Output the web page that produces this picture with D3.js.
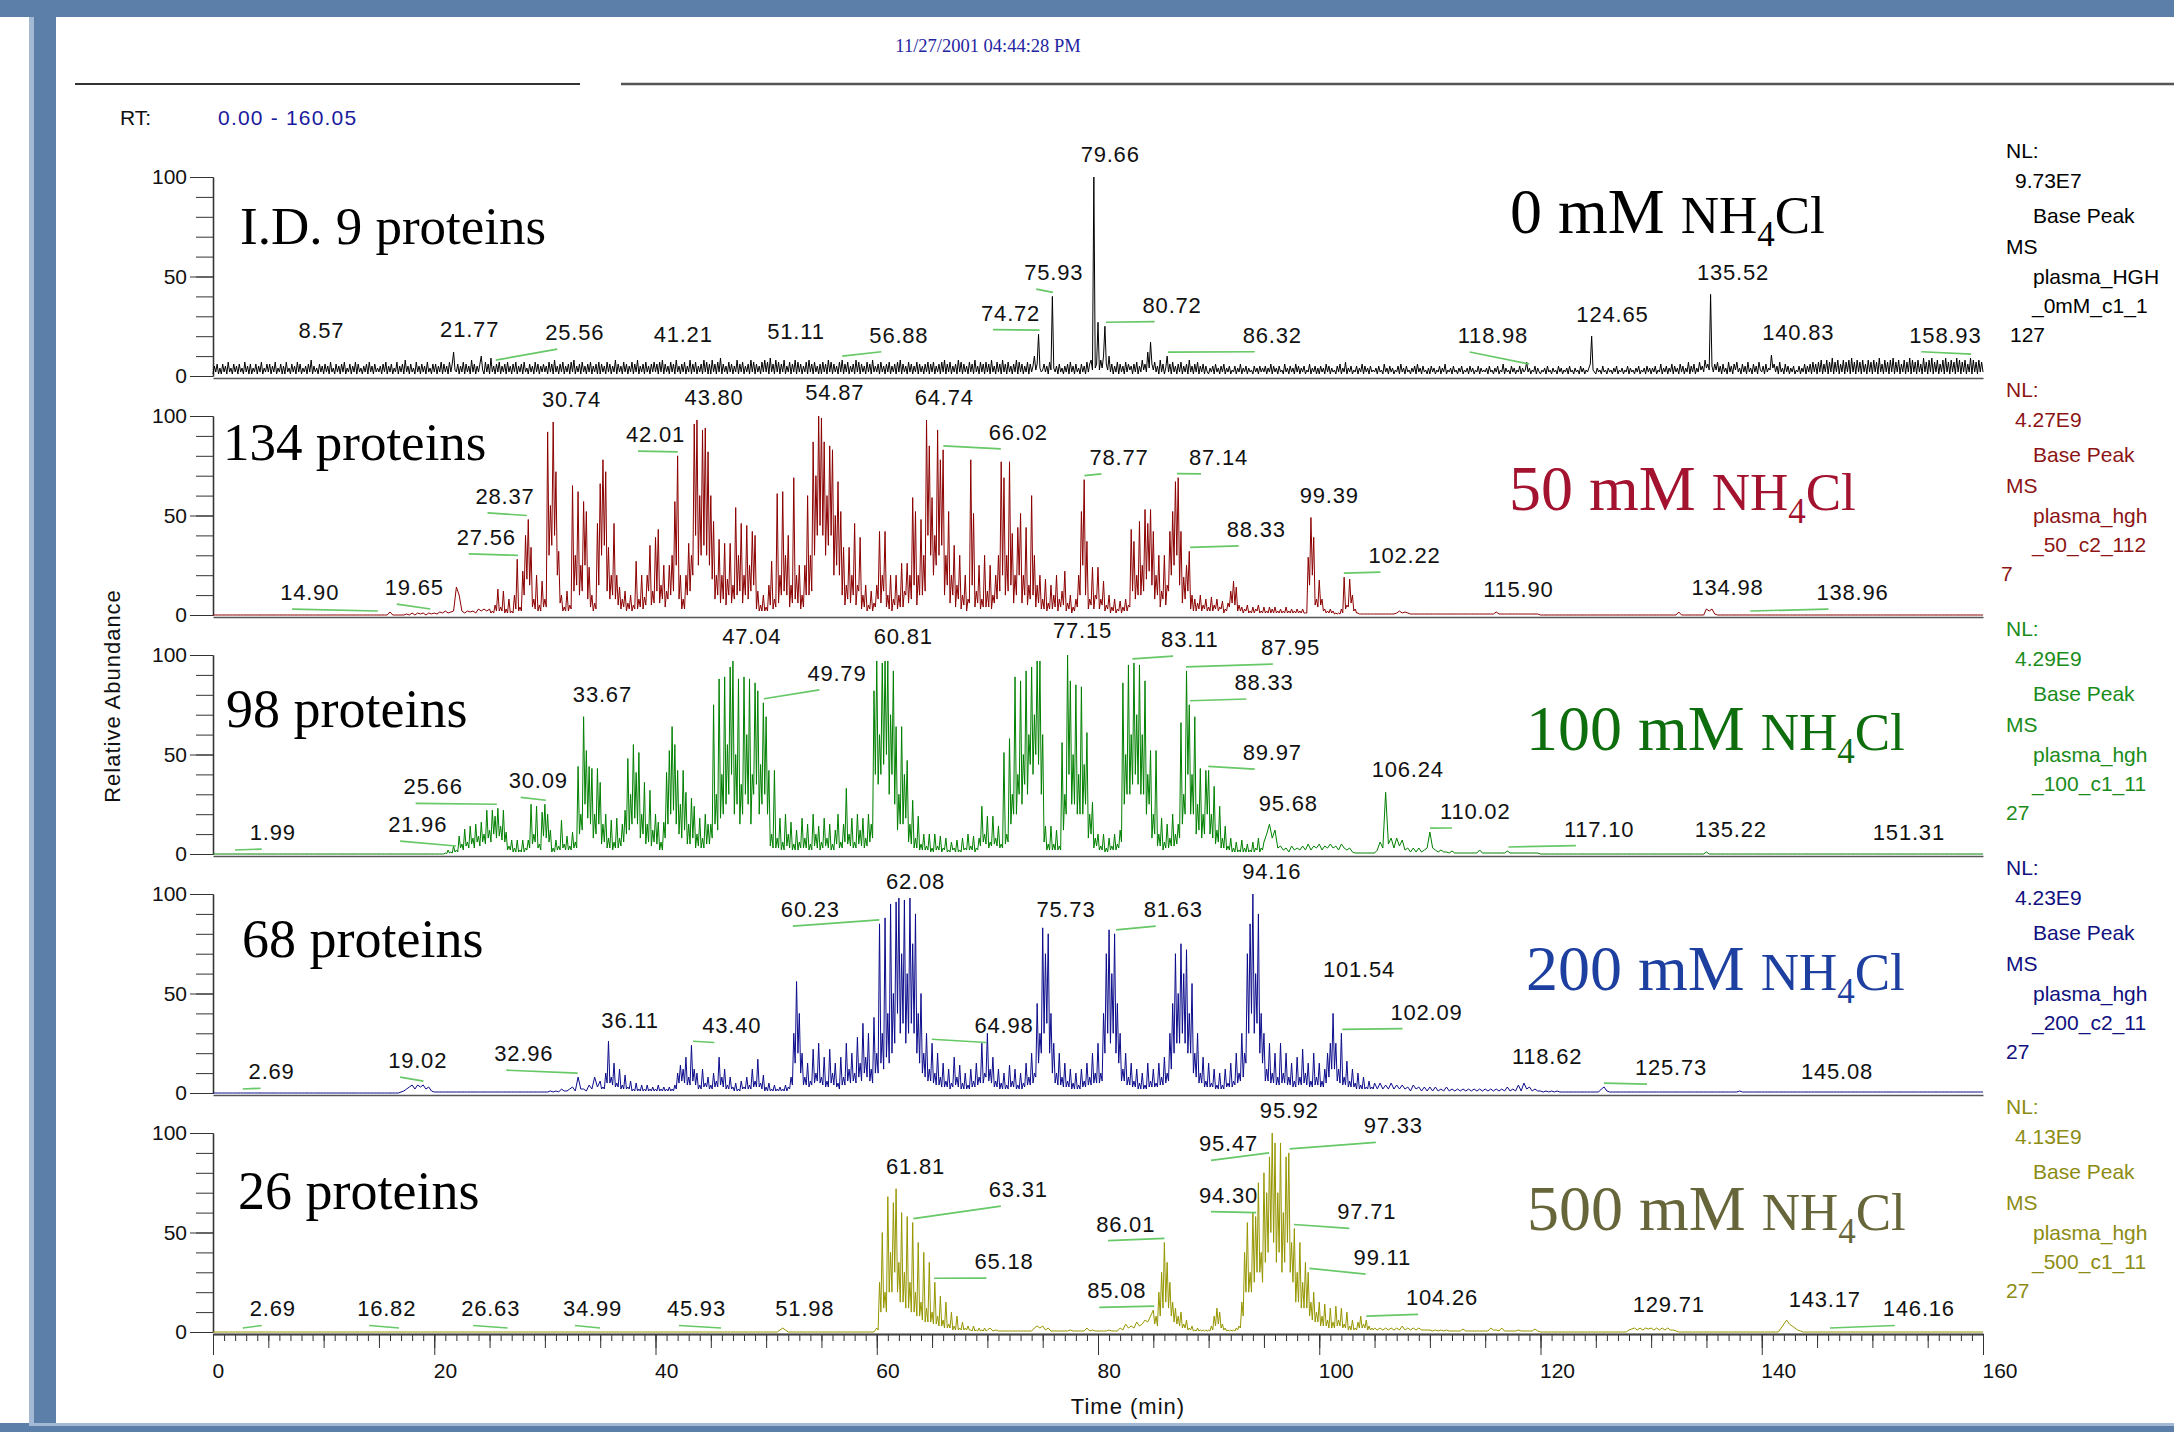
<!DOCTYPE html>
<html><head><meta charset="utf-8">
<script src="https://cdn.jsdelivr.net/npm/d3@7"></script>
<style>
html,body{margin:0;padding:0;background:#fff;}
svg{display:block;}
text{font-family:"Liberation Sans",Arial,sans-serif;}
</style></head><body>
<svg id="c" width="2174" height="1432"></svg>
<script>
// ---------------- DATA ----------------
const CHUNK_MIN = 5;     // each string below covers 5 minutes (20 values = 0.25 min steps, 40 values = 0.125 min steps)
const xMajorTicks = [0,20,40,60,80,100,120,140,160];
const yLabelTicks = [0,50,100];
const concLabels = ["0","50","100","200","500"];
const proteinLabels = ["I.D. 9 proteins","134 proteins","98 proteins","68 proteins","26 proteins"];
const nlValues = ["9.73E7","4.27E9","4.29E9","4.23E9","4.13E9"];
const fileLines = [["plasma_HGH","_0mM_c1_1","127"],["plasma_hgh","_50_c2_112","7"],["plasma_hgh","_100_c1_11","27"],["plasma_hgh","_200_c2_11","27"],["plasma_hgh","_500_c1_11","27"]];

// Relative abundance (%) — one string per 5 min
const abund0 = [
"1 5 2 6 1 4 1 6 2 5 1 7 2 4 1 6 2 5 1 6 2 4 1 7 2 5 1 6 1 4 2 6 1 5 2 7 1 4 2 6",
"2 6 1 5 2 7 1 4 2 6 1 5 1 7 2 4 1 6 2 5 1 7 2 6 1 4 2 5 1 6 2 8 1 5 2 4 1 6 2 5",
"1 6 2 5 1 7 2 4 1 6 2 5 1 6 2 7 1 4 2 6 1 5 2 7 1 6 2 4 1 5 2 6 1 7 2 5 1 6 2 4",
"2 5 1 6 2 7 1 5 2 6 1 4 2 7 1 5 2 6 1 8 2 5 1 6 2 4 1 7 2 5 1 6 2 5 1 7 2 4 1 6",
"2 6 1 5 2 7 1 6 2 5 1 7 2 6 12 3 2 6 1 5 2 7 1 6 2 5 1 8 2 6 1 5 2 6 10 3 1 7 2 6",
"1 9 2 5 1 6 2 7 1 5 2 6 1 7 2 5 1 6 2 7 1 5 2 6 1 7 2 4 1 6 2 5 1 7 2 6 1 5 2 6",
"2 5 1 7 2 6 1 8 2 5 1 6 2 7 1 5 2 6 1 7 2 8 1 5 2 6 1 7 2 5 1 6 2 7 1 5 2 6 1 7",
"1 6 2 5 1 7 2 6 1 5 2 8 1 6 2 5 1 7 2 6 1 5 2 7 1 6 2 8 1 5 2 6 1 7 2 5 1 6 2 7",
"2 6 1 7 2 8 1 6 2 5 1 7 2 6 1 8 2 5 1 6 2 7 1 5 2 8 1 6 2 7 1 5 2 6 1 8 2 7 1 6",
"1 8 2 6 1 7 2 9 1 6 2 5 1 7 2 6 1 5 2 8 1 6 2 7 1 5 2 6 1 8 2 7 1 6 2 5 1 7 2 8",
"2 7 1 9 2 6 1 8 2 7 1 6 2 8 1 5 2 7 1 6 2 8 1 7 2 6 1 5 2 7 1 8 2 6 1 7 2 5 1 6",
"1 7 2 6 1 8 2 7 1 6 2 5 1 7 2 8 1 6 2 7 1 5 2 6 1 8 2 7 1 6 2 5 1 7 2 6 1 8 2 5",
"2 6 1 7 2 5 1 6 2 7 1 5 2 6 1 7 2 8 1 6 2 5 1 7 2 6 1 5 2 7 1 6 2 5 1 6 2 7 1 6",
"2 7 1 5 2 6 1 7 2 8 1 6 2 7 1 5 2 6 1 8 2 7 1 6 2 5 1 7 2 6 1 8 2 5 1 7 2 6 1 7",
"2 6 1 8 2 5 1 7 2 6 1 8 2 6 1 7 2 5 1 6 2 8 1 7 2 6 1 5 2 7 1 6 2 5 10 3 6 21 4 2",
"3 6 2 5 1 7 3 40 4 2 5 1 6 2 4 1 5 2 6 1 7 2 5 1 6 2 4 1 6 2 5 1 7 2 6 8 3 100 4 6",
"27 3 8 4 10 25 6 3 10 2 6 1 5 2 7 1 6 2 5 1 7 2 6 3 5 1 6 2 7 1 5 2 8 3 6 2 12 4 17 6",
"3 7 2 5 1 8 2 6 1 4 10 2 6 1 7 2 5 1 6 2 7 1 5 2 6 1 8 2 5 1 6 2 7 1 5 2 6 1 5 2",
"1 4 2 5 1 6 2 4 1 5 2 6 1 4 2 5 1 3 2 5 1 4 2 6 1 4 2 5 1 4 2 3 1 5 2 4 1 5 2 4",
"2 5 1 4 2 6 1 5 2 4 1 5 2 3 1 6 2 4 1 5 2 4 1 6 2 5 1 4 2 5 1 3 2 6 1 4 2 5 1 4",
"1 5 2 4 1 6 2 5 1 4 2 3 1 5 2 6 1 4 2 7 1 4 2 5 1 3 2 5 1 4 2 6 1 5 2 4 1 5 2 3",
"2 4 1 5 2 3 1 6 2 4 1 5 2 4 1 3 2 5 1 6 2 4 1 5 2 3 1 4 2 5 1 6 2 4 1 5 2 3 1 4",
"1 5 2 4 1 3 2 5 1 4 2 6 1 3 2 4 1 5 2 3 1 4 2 5 1 3 2 4 1 5 2 4 1 3 2 5 1 4 2 3",
"2 4 1 5 2 3 1 4 2 5 1 3 2 6 1 4 2 3 1 5 2 4 1 3 2 5 1 4 2 3 7 2 4 1 3 2 5 1 4 2",
"1 3 2 4 1 5 2 3 1 4 2 3 1 5 2 4 1 3 2 4 1 5 2 3 1 4 2 3 1 5 2 4 1 3 2 4 6 20 3 2",
"1 4 2 3 1 5 2 3 1 4 2 3 1 4 2 5 1 3 2 4 1 3 2 5 1 4 2 3 1 4 2 5 1 3 2 4 1 5 2 4",
"1 4 2 5 1 3 2 6 1 4 2 5 1 4 2 6 1 5 2 4 1 6 2 5 1 4 2 7 1 5 2 6 1 4 2 7 3 5 2 8",
"4 6 3 41 5 2 6 3 7 2 5 1 6 2 4 1 7 2 5 1 6 3 7 2 4 1 6 2 5 1 7 2 4 1 6 2 5 1 7 3",
"2 5 1 6 2 4 3 10.5 4 6 2 5 1 7 2 4 1 6 2 5 1 4 2 5 1 3 2 5 1 4 2 6 1 5 2 6 1 7 2 6",
"1 7 2 8 1 6 2 8 1 7 2 9 1 7 2 8 1 6 2 8 1 7 2 8 1 9 2 7 1 8 2 7 1 8 2 6 1 8 2 7",
"1 8 2 7 1 9 2 6 1 8 2 7 1 8 2 9 1 7 2 8 1 6 2 8 1 7 2 9 1 8 2 7 1 8 2 6 1 9 2 7",
"1 8 2 9 1 7 2 8 1 6 2 8 1 9 2 7 1 8 2 7 1 9 2 8 1 7 2 8 1 6 2 9 1 8 2 7 1 8 2 7",
"2"];
const abund50 = [
"0*20","0*20","0*20","0 0 0 0 1.5 0 0 0 0 0 0.5 0 1 0 1 0.5 1 0 1 0.5",
"1 0.5 1.5 1 2 1 1.5 2 14 10 2 1 2 1.5 2 1 3 2 3 2",
"3 1 2 1 5 2 13 2 4 2 12 1 3 1 8 1 2 1 10 3 28 2 4 2 22 10 40 18 48 15 34 4 8 3 20 2 5 2 17 4",
"8 4 92 30 55 35 97 40 72 20 32 6 10 2 4 2 12 2 5 3 65 12 30 15 62 10 25 12 57 25 52 8 24 4 10 2 6 3 46 15",
"66 30 78 35 72 12 34 8 20 10 46 8 20 5 14 3 8 4 12 2 6 3 10 2 5 3 27 3 8 4 20 3 9 5 20 12 35 5 12 6",
"39 12 43 6 15 8 25 4 12 8 25 10 30 12 57 25 80 8 20 3 8 3 20 10 36 12 30 20 96 40 98 25 60 30 93 35 94 30 82 25",
"60 18 47 8 20 10 38 6 20 8 36 5 18 10 36 6 15 8 54 10 30 12 46 6 20 10 45 8 25 12 42 15 40 3 12 2 5 2 10 2",
"4 2 15 5 27 3 8 4 61 6 20 10 62 12 30 10 40 4 15 6 69 8 20 6 25 3 10 4 25 10 60 10 30 12 87 30 70 40 100 45",
"99 40 87 30 60 35 85 40 83 20 50 25 67 20 52 10 34 5 15 8 34 6 20 10 46 5 15 12 39 3 10 4 15 2 5 3 12 2 6 4",
"15 8 42 6 20 12 42 4 10 3 20 2 8 5 20 3 10 4 26 4 12 10 26 6 20 8 59 15 52 5 20 10 48 10 30 12 98 40 85 30",
"59 20 40 25 93 30 78 35 83 10 30 15 52 6 20 10 35 4 15 8 30 3 10 5 20 2 8 6 78 15 51 4 12 6 25 3 8 4 30 4",
"12 4 25 3 10 6 20 8 30 12 77 20 69 10 30 12 77 15 41 6 20 10 44 20 51 6 20 10 44 5 15 8 60 10 30 4 15 6 20 3",
"8 3 18 2 6 3 15 3 10 4 20 2 8 4 12 5 22 2 6 3 10 1 4 2 8 4 20 10 52 25 68 10 37 3 8 5 24 3 10 8",
"24 3 8 5 17 2 5 3 10 1 4 2 8 1 3 2 7 1 4 2 8 2 5 4 43 12 37 8 20 10 47 10 25 12 53 18 46 22 53 15",
"42 8 20 10 30 4 12 8 30 5 15 12 42 20 52 25 67 30 69 15 42 6 19 8 25 12 32 3 10 2 8 2 6 3 10 2 5 3 8 2",
"4 2 9 2 5 3 8 2 4 3 7 1 3 2 6 4 12 6 17 5 14 2 5 2 4 1 3 2 5 1 2 1 4 1 3 2 5 1 2 1",
"4 1 2 1 4 1 3 1 4 1 2 1 3 1 2 1 4 1 2 1 3 1 2 1 3 1 2 1 3 1 1 1 29 15 49 20 39 5 8 4",
"17.5 5 8 2 3 1 2 1 3 1 2 0.5 1 0.5 1 0.5 3 1 19 3 5 4 18 6 10 2 3 1 1 0.5 0.5 0.5 0.5 0.5 0.5 0.5 0.5 0.5 0.5 0.5",
"0.5 0.5 0.5 0.5 0.5 0.5 0.5 0.5 1 2 1 1.5 1 0.5 0.5 0.5 0.5 0.5 0.5 0.5",
"0.5*20","0.5 0.5 0.5 0.5 1.5 0.5*15","0*20","0*20",
"0 0 0 0 0 0 0 0 0 0 1.5 0*9","3 2 3 0.5 0*16","0*20","0*20","0*20","0*20","0"];
const abund100 = [
"0*20","0*20","0*20","0*20",
"0 0 0 0 0 0 0 0 0.5 0.2 2 0.5 1 0.5 4 1 2 1 9 3 5 2 12.5 4 6 3 14 5 8 3 15 6 9 4 16 6 10 5 22 8",
"12 6 22 10 19 8 23 9 14 7 22 6 11 2 4 2 7 1 3 1 7 1 2 1 7 1 3 2 7 3 25 5 10 6 24 3 5 2 21 9",
"25 8 20 6 12 1 3 1 7 2 4 2 17 3 5 2 9 2 4 2 11 3 6 3 44 10 20 12 69 25 52 18 44 15 43 8 20 10 43 15",
"36 5 15 6 20 3 8 3 17 2 6 3 18 3 8 4 15 6 22 10 48 12 30 15 55 18 41 15 51 8 20 10 36 5 15 6 32 4 12 6",
"20 5 16 2 6 2 16 8 41 15 52 20 64 22 55 15 42 10 25 8 42 12 31 5 15 5 28 8 24 3 10 4 18 3 8 3 20 5 15 5",
"15 8 75 15 30 12 88 18 40 20 89 25 55 30 94 40 97 20 50 25 88 15 35 20 89 30 60 25 88 15 40 30 86 35 82 20 45 25 76 30",
"69 20 42 4 10 3 42 3 8 3 18 2 6 2 20 4 10 3 16 2 5 2 12 2 6 3 18 3 8 3 15 2 5 2 20 4 10 3 14 2",
"6 3 18 4 8 3 15 2 5 2 12 5 20 3 6 3 15 6 33 5 10 4 18 3 6 3 20 5 12 4 18 3 8 4 20 6 15 8 82 40",
"97 35 60 40 96 45 97 50 97 30 70 40 92 25 64 12 30 15 64 15 40 18 47 6 15 5 27 3 8 3 19 2 5 2 10 2 4 2 10 1",
"3 1 10 2 4 2 9 1 3 2 8 1 2 1 6 2 3 1 7 1 2 1 8 2 3 2 10 2 4 2 9 1 3 2 8 4 24 6 10 5",
"19 3 6 4 19 5 8 4 14 3 5 3 51 5 10 6 58 15 30 20 89 20 40 30 87 25 50 35 92 30 60 45 94 40 70 50 97 45 97 30",
"60 6 14 2 5 2 14 2 5 2 12 2 4 2 56 12 30 20 100 40 87 25 50 25 85 20 40 20 84 20 45 25 61 8 20 10 26 3 8 4",
"10 2 4 2 10 1 3 1 8 2 4 2 10 2 5 3 12 6 86 25 50 30 95 30 60 35 96 40 70 35 95 30 60 30 87 20 40 25 52 8",
"20 10 52 4 10 4 18 2 6 3 15 3 8 4 20 4 10 5 15 8 66 15 30 20 92 40 75 20 40 20 69 10 25 12 43 8 20 10 42 20",
"42 10 20 8 34 5 12 6 24 3 8 3 14 2 4 2 8 1 3 1 6 1 2 1 7 1 3 1 5 1 2 1 6 1 3 2 8 1 3 2",
"6 10 15 8 12 3 4 2 3 1 4 2 3 2 4 2 5 2 4 3",
"5 2 4 3 5 3 4 2 5 3 2 3 1 0.5 0.5 0.5 0.5 0.5 0.5 0.5","0.5 2 6 3 31 5 8 3 8 4 7 2 3 1 3 1 3 1 2 3",
"11 3 2 1 2 1 1 0.5 1.5 0.5 0.5 0.5 0.5 0.5 0.5 0.5 0.5 0.5 2 0.5","0.5 0.5 0.5 0.5 0.5 0.5 0.5 0.5 1.5 0.5*11",
"0*20","0*20","0*20","1 0*19","0*20","0*20","0*20","0*20","0"];
const abund200 = [
"0*20","0*20","0*20","0 0 0 0 0 0 0 0 0.5 1 2 3 4 2 4 3 4 2 3 1",
"0.5*20","0.5*20","0.5 0.5 1 0.5 1 0.5 2 1 1 2 3 1 8 2 2 1 4 2 8 3",
"6 2 3 2 10 5 26 5 8 4 15 3 5 3 12 2 4 2 9 2 3 2 6 1 2 1 5 1 2 1 4 1 2 1 4 1 2 1 3 1",
"2 1 4 1 2 1 3 1 2 1 3 1 2 1 4 2 10 5 14 6 12 5 18 4 8 4 24 6 12 4 10 2 4 2 12 3 5 3 8 2",
"4 2 10 3 6 3 18 4 8 3 12 2 4 2 8 2 3 1 5 1 2 1 6 2 3 2 8 2 4 2 12 3 6 3 17 3 5 2 9 1",
"3 1 5 1 2 1 4 1 2 1 3 1 2 1 4 1 3 2 8 4 30 15 56 20 40 10 20 4 8 4 15 3 6 4 22 5 10 6 25 5",
"8 4 18 3 6 3 22 5 10 4 15 3 5 2 18 4 8 4 25 6 12 5 20 6 10 5 28 8 15 6 35 10 18 8 30 6 12 5 38 10",
"20 10 85 15 30 12 88 18 40 15 95 20 50 25 96 40 98 30 70 35 97 25 60 30 98 35 75 30 90 20 40 15 50 10 20 8 30 6 12 6",
"25 5 10 4 20 4 8 3 15 3 6 3 12 2 5 3 18 4 8 3 14 2 5 2 10 2 4 2 12 3 6 3 15 4 8 5 25 5 10 8",
"30 6 12 5 18 3 6 3 12 2 5 2 10 2 4 2 14 3 6 3 12 2 4 2 10 2 5 3 15 4 8 4 20 5 10 8 45 15 30 20",
"83 30 70 35 80 20 40 10 25 5 10 4 20 4 8 3 15 3 6 3 12 2 5 2 10 2 4 2 12 3 6 3 15 4 8 4 20 5 10 5",
"25 5 10 6 40 20 70 30 82 25 60 30 80 20 45 15 30 6 12 6 20 4 8 4 15 3 6 3 12 2 5 2 10 2 4 2 15 3 6 3",
"12 3 5 3 15 4 8 4 18 5 10 6 30 12 45 20 70 25 50 25 75 30 60 25 72 20 40 20 55 10 20 8 30 5 10 5 18 3 6 3",
"15 3 5 3 12 2 4 2 10 2 4 2 12 3 5 3 15 3 6 4 20 5 10 6 30 8 20 15 70 30 85 40 100 30 60 35 90 20 40 15",
"30 6 12 6 25 5 10 5 20 4 8 4 25 5 10 5 20 4 8 4 15 3 6 3 18 4 8 4 22 5 10 4 15 3 6 3 20 4 8 4",
"15 3 6 3 12 5 20 8 25 12 40 12 25 6 12 5 30 4 8 4 16 3 6 3 12 3 5 2 10 2 4 2 8 2 3 2 6 2 3 2",
"5 2 5 2 4 2 5 2 4 2 4 2 3 1 4 2 3 1 3 1",
"3 1 3 1 2 1 3 1 2 1 2 1 2 1 2 1 2 1 2 1","2 1 2 1 2 1 2 1 3 1 2 1 4 1 5 2 3 1 2 1",
"1 0.5 1 0.5 1 0.5 1 0.5 0.5*12","0.5 0.5 2 3 1 0.5*15","0.5*20","0.5*12 1 0.5*7",
"0.5*20","0.5*20","0.5*20","0.5*20","0.5"];
const abund500 = [
"0*20","0*20","0*20","0*20","0*20","0*20","0*20","0*20","0*20","0*20",
"0 0 0 0 0 1 2 1 0*12","0*20",
"2 1 25 10 50 12 20 10 68 20 40 20 65 30 72 20 35 15 60 15 30 12 58 12 25 10 55 10 20 8 45 8 15 6 40 5 12 5 35 5",
"10 4 25 4 8 3 18 3 6 2 15 2 4 2 10 1 3 1 8 1 2 1 5 1 2 1 3 1 1 0.5 3 0.5 1 0.5 2 0.5 1 0.5 2 0.5",
"1 2 0.5 1 0.5*13 2 3 2","3 1 2 0.5*7 1 0.5*5 2 0.5 1 0.5",
"0.5 0.5 0.5 0.5 1 0.5 0.5 0.5 2 1 4 2 3 2 5 3 4 6 5 8",
"11 4 8 3 20 8 30 12 45 15 35 12 25 8 15 5 12 4 8 3 10 2 4 2 6 1 2 1 3 0.5 1 0.5 2 0.5 1 0.5 1 0.5 1 0.5",
"1 0.5 3 1 8 3 12 4 10 2 4 1 2 0.5 1 0.5 1 0.5 1 0.5 2 1 3 2 15 8 40 20 55 20 30 20 60 25 58 30 75 30 40 25",
"80 35 70 40 88 50 100 45 95 35 70 40 95 30 60 35 88 45 90 30 45 25 52 15 30 15 45 12 25 12 35 12 30 8 15 6 20 5 10 5",
"15 3 8 3 14 3 6 2 12 2 5 2 13 3 6 3 12 2 4 2 10 1 3 1 6 1 2 1 5 2 8 2 4 2 6 1 3 1 2 1",
"2 1 2 1 2 1 2 1 2 1 3 1 2 1 2 1 2 1 1 1",
"1 0.5 1 0.5 1 0.5 1 0.5 0.5 0.5 0.5 0.5 1.5 0.5*7","0.5 0.5 2 1 1 0.5 2 0.5*5 1 0.5*5 1.5 0.5",
"0*20","0*12 1 1.5 2 1 2 1 2 1.5","2 1 2 1 2 1 2 1 1 0.5 0*10","0*20",
"0*7 2 4 6 4 3 2 1 0.5 0*5","0*20","0*20","0*20","0"];

// Peak annotations: [retention time, label centre (min), label baseline (%)]
const peaks0 = [[8.57,9.8,19],[21.77,23.2,19.7],[25.56,32.7,18],[41.21,42.5,17],[51.11,52.7,18.6],[56.88,62,16.7],[74.72,72.1,27.8],[75.93,76.0,48.2],[79.66,81.1,107.7],[80.72,86.7,31.8],[86.32,95.75,16.7],[118.98,115.7,16.6],[124.65,126.5,27],[135.52,137.4,48],[140.83,143.3,18],[158.93,156.6,16.7]];
const peaks50 = [[14.90,8.74,7.5],[19.65,18.2,10],[27.56,24.7,35.2],[28.37,26.4,55.8],[30.74,32.4,104.7],[42.01,40.0,86.9],[43.80,45.3,105.5],[54.87,56.2,108],[64.74,66.1,105.5],[66.02,72.8,88],[78.77,81.9,75.4],[87.14,90.9,75.4],[88.33,94.3,39.3],[99.39,100.9,56.3],[102.22,107.7,26.1],[115.90,118.0,9.2],[134.98,136.9,10],[138.96,148.2,7.5]];
const peaks100 = [[1.99,5.4,7],[21.96,18.5,11],[25.66,19.9,30],[30.09,29.4,33],[33.67,35.2,76.5],[47.04,48.7,105.5],[49.79,56.4,87],[60.81,62.4,105.5],[77.15,78.6,108.5],[83.11,88.3,104],[87.95,97.4,100],[88.33,95.0,82.4],[89.97,95.75,47.2],[95.68,97.2,21.6],[106.24,108,38.8],[110.02,114.1,17.6],[117.10,125.3,8.7],[135.22,137.2,8.7],[151.31,153.3,7]];
const peaks200 = [[2.69,5.3,6.9],[19.02,18.5,12.5],[32.96,28.1,16],[36.11,37.7,32.7],[43.40,46.9,29.9],[60.23,54.0,88.4],[62.08,63.5,102.4],[64.98,71.5,29.9],[75.73,77.1,88.4],[81.63,86.8,88.4],[94.16,95.7,107.4],[101.54,103.6,58.4],[102.09,109.7,36.9],[118.62,120.6,14.6],[125.73,131.8,9],[145.08,146.8,6.9]];
const peaks500 = [[2.69,5.4,7.8],[16.82,15.7,7.8],[26.63,25.1,7.8],[34.99,34.3,7.8],[45.93,43.7,7.8],[51.98,53.5,7.8],[61.81,63.5,79.6],[63.31,72.8,67.8],[65.18,71.5,31.6],[85.08,81.7,16.9],[86.01,82.5,50.4],[94.30,91.8,65],[95.47,91.8,90.8],[95.92,97.3,107.5],[97.33,106.7,99.8],[97.71,104.3,56.6],[99.11,105.7,33.6],[104.26,111.1,13.4],[129.71,131.6,9.9],[143.17,145.7,12.7],[146.16,154.2,7.8]];

// ---------------- STYLE / LAYOUT ----------------
const traces = [abund0,abund50,abund100,abund200,abund500];
const peakSets = [peaks0,peaks50,peaks100,peaks200,peaks500];
const traceColors = ["#000000","#8c0000","#008000","#0c0c8c","#969600"];
const concColors = ["#000000","#a3122e","#0e6e0e","#1d3fa0","#66663a"];
const nlColors = ["#000000","#8c1414","#1a8c1a","#10107e","#8c8c14"];
const X0 = 213, X1 = 1983, PH = 199, PSTEP = 239, Y0FIRST = 376;

function parseChunks(chunks){
  const pts = [];
  chunks.forEach((s,k)=>{
    const vals = [];
    s.trim().split(/\s+/).forEach(tok=>{
      let v = tok, n = 1;
      if (tok.includes('*')) { const p = tok.split('*'); v = p[0]; n = +p[1]; }
      for (let r=0;r<n;r++) vals.push(+v);
    });
    const step = CHUNK_MIN / vals.length;
    vals.forEach((v,j)=>pts.push([k*CHUNK_MIN + j*step, v]));
  });
  return pts;
}

const svg = d3.select('#c');
// frame
svg.append('rect').attr('width',2174).attr('height',1432).attr('fill','#5b7fa8');
svg.append('rect').attr('x',0).attr('y',17).attr('width',29).attr('height',1406).attr('fill','#ffffff');
svg.append('rect').attr('x',29).attr('y',17).attr('width',5).attr('height',1409).attr('fill','#a4b9d4');
svg.append('rect').attr('x',56).attr('y',17).attr('width',2118).attr('height',1406).attr('fill','#ffffff');
svg.append('rect').attr('x',34).attr('y',1423).attr('width',2140).attr('height',3).attr('fill','#a4b9d4');

// header
svg.append('text').attr('x',988).attr('y',52).attr('text-anchor','middle')
  .style('font-family','"Liberation Serif","Times New Roman",serif').style('font-size','18.5px')
  .attr('fill','#2424a0').text('11/27/2001 04:44:28 PM');
svg.append('line').attr('x1',75).attr('x2',580).attr('y1',84).attr('y2',84).attr('stroke','#333').attr('stroke-width',2);
svg.append('line').attr('x1',621).attr('x2',2174).attr('y1',84).attr('y2',84).attr('stroke','#555').attr('stroke-width',2.5);
svg.append('text').attr('x',120).attr('y',125).style('font-size','21px').attr('fill','#111').text('RT:');
svg.append('text').attr('x',218).attr('y',125).style('font-size','21px').style('letter-spacing','1.2px').attr('fill','#1a1a9e').text('0.00 - 160.05');

const x = d3.scaleLinear().domain([0,160]).range([X0,X1]);
const serif = '"Liberation Serif","Times New Roman",serif';

traces.forEach((chunks,i)=>{
  const y0 = Y0FIRST + i*PSTEP;
  const y = d3.scaleLinear().domain([0,100]).range([y0, y0-PH]);
  const pts = parseChunks(chunks);
  const g = svg.append('g');

  // baseline axis
  if (i === traces.length-1) {
    const gm = g.append('g').attr('transform',`translate(0,${y0+2})`);
    gm.call(d3.axisBottom(x).tickValues(d3.range(0,161,1)).tickSize(7).tickSizeOuter(0).tickFormat(''));
    const gm5 = g.append('g').attr('transform',`translate(0,${y0+2})`);
    gm5.call(d3.axisBottom(x).tickValues(d3.range(0,161,5)).tickSize(14).tickSizeOuter(0).tickFormat(''));
    const gM = g.append('g').attr('transform',`translate(0,${y0+2})`);
    gM.call(d3.axisBottom(x).tickValues(xMajorTicks).tickSize(21).tickPadding(8).tickSizeOuter(0).tickFormat(d3.format('d')));
    gM.selectAll('text').style('font-size','21px').attr('fill','#111').attr('text-anchor','start').attr('dx',-1);
    [gm,gm5,gM].forEach(a=>{a.selectAll('line').attr('stroke','#333'); a.select('.domain').attr('stroke','#444').attr('stroke-width',1.6);});
  } else {
    const ga = g.append('g').attr('transform',`translate(0,${y0+2})`);
    ga.call(d3.axisBottom(x).tickValues([]).tickSizeOuter(0));
    ga.select('.domain').attr('stroke','#555').attr('stroke-width',1.6);
  }
  // y axis
  const gyMinor = g.append('g').attr('transform',`translate(${X0},0)`);
  gyMinor.call(d3.axisLeft(y).tickValues(d3.range(0,101,10)).tickSize(17).tickSizeOuter(0).tickFormat(''));
  const gyMajor = g.append('g').attr('transform',`translate(${X0},0)`);
  gyMajor.call(d3.axisLeft(y).tickValues(yLabelTicks).tickSize(23).tickPadding(3).tickSizeOuter(0));
  [gyMinor,gyMajor].forEach(a=>{a.selectAll('line').attr('stroke','#333'); a.select('.domain').attr('stroke','#333').attr('stroke-width',1.3);});
  gyMajor.selectAll('text').style('font-size','21px').attr('fill','#111');

  // trace
  g.append('path').datum(pts)
    .attr('d', d3.line().x(d=>x(d[0])).y(d=>y(d[1])))
    .attr('fill','none').attr('stroke',traceColors[i]).attr('stroke-width',1).attr('stroke-linejoin','miter');

  // peak labels
  peakSets[i].forEach(([rt,lx,ly])=>{
    const near = pts.filter(p=>Math.abs(p[0]-rt) <= 0.151);
    const pv = d3.max(near, p=>p[1]) || 0;
    const t = g.append('text').attr('x',x(lx)).attr('y',y(ly)).attr('text-anchor','middle')
      .style('font-size','22px').style('letter-spacing','0.8px').attr('fill','#111').text(rt.toFixed(2));
    const w = t.node().getComputedTextLength();
    const endX = x(lx) - w/2 + 12;
    const px = x(rt);
    if (Math.abs(endX - px) > 10) {
      g.append('line').attr('x1',px).attr('y1',y(pv)-4).attr('x2',endX).attr('y2',y(ly)+9)
        .attr('stroke','#66c866').attr('stroke-width',1.7);
    }
  });

  // protein count label
  const pPos = [[240,244,53],[223,460,53],[226,727,54],[242,957,54],[238,1209,54]];
  g.append('text').attr('x',pPos[i][0]).attr('y',pPos[i][1])
    .style('font-family',serif).style('font-size',pPos[i][2]+'px').attr('fill','#000').text(proteinLabels[i]);

  // concentration label
  const cPos = [[1510,233],[1509,510],[1526,750],[1526,990],[1527,1230]];
  const ct = g.append('text').attr('x',cPos[i][0]).attr('y',cPos[i][1])
    .style('font-family',serif).attr('fill',concColors[i]);
  ct.append('tspan').style('font-size','64px').text(concLabels[i]+' mM ');
  ct.append('tspan').style('font-size','53px').text('NH');
  ct.append('tspan').style('font-size','35px').attr('dy',13).text('4');
  ct.append('tspan').style('font-size','53px').attr('dy',-13).text('Cl');

  // NL block
  const top = y0 - PH;
  const lines = [["NL:",2006,-19],[nlValues[i],2015,11],["Base Peak",2033,46],["MS",2006,77],
                 [fileLines[i][0],2033,107],[fileLines[i][1],2032,136],[fileLines[i][2],[2010,2001,2006,2006,2006][i],165]];
  lines.forEach(([s,lx2,dy])=>{
    g.append('text').attr('x',lx2).attr('y',top+dy).style('font-size','21px').attr('fill',nlColors[i]).text(s);
  });
});

svg.append('text').attr('x',1128).attr('y',1414).attr('text-anchor','middle')
  .style('font-size','22px').style('letter-spacing','1px').attr('fill','#111').text('Time (min)');
svg.append('text').attr('transform','translate(120,696) rotate(-90)').attr('text-anchor','middle')
  .style('font-size','22px').style('letter-spacing','1px').attr('fill','#111').text('Relative Abundance');
</script>
</body></html>
